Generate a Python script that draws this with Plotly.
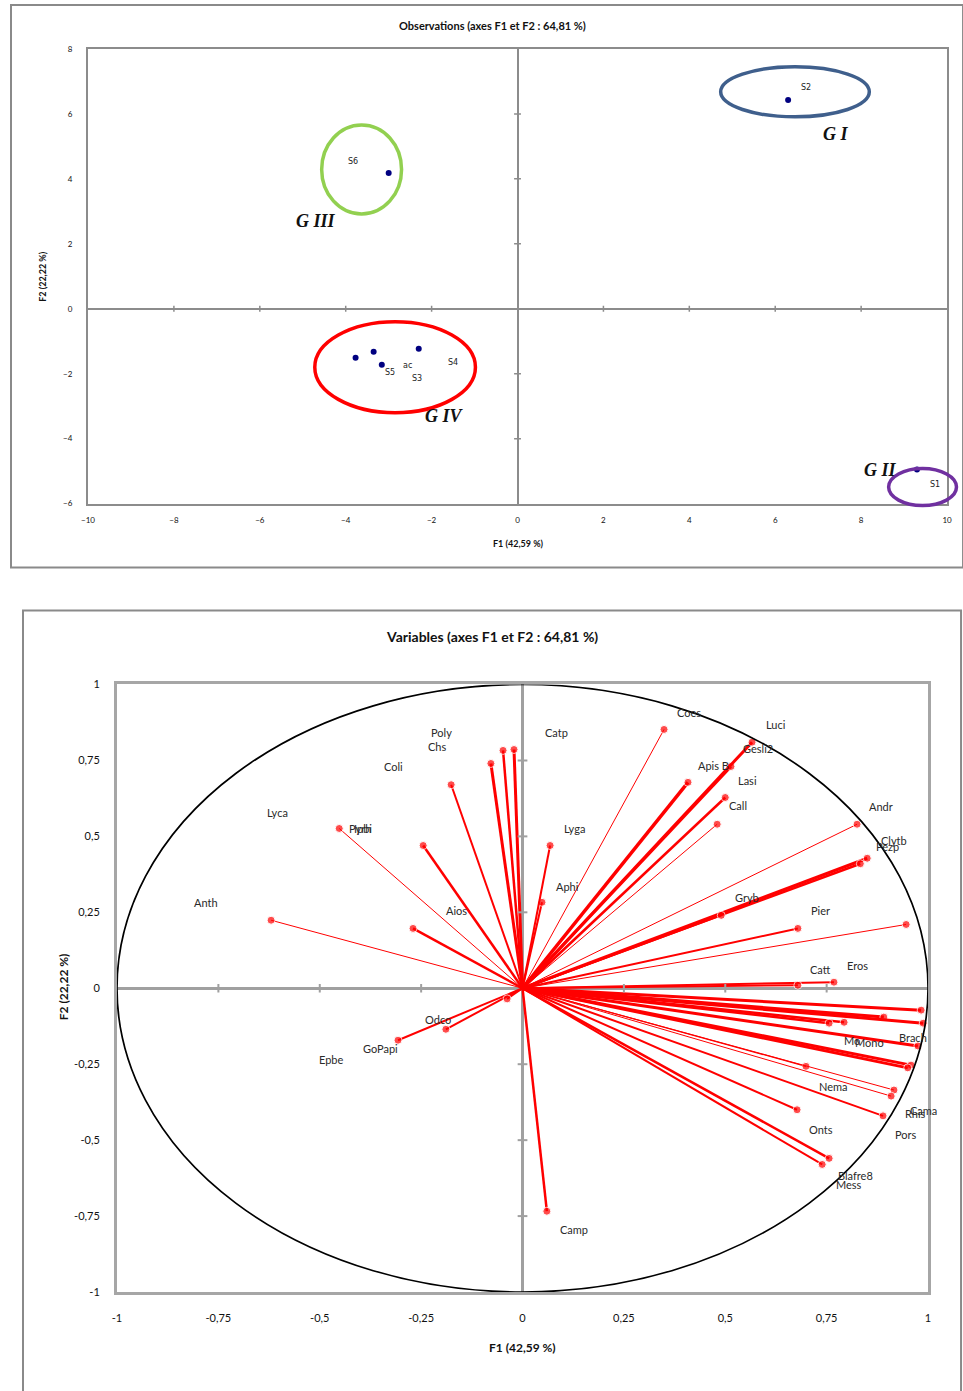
import plotly.graph_objects as go

W, H = 963, 1391

# ---------------- Observations (top chart) ----------------
obs_f1 = [6.30, -3.00, -3.77, -3.35, -3.16, -2.30, 9.30]
obs_f2 = [6.43, 4.18, -1.51, -1.32, -1.72, -1.23, -4.95]
obs_labels = ["S2", "S6", "S5", "ac", "S3", "S4", "S1"]
obs_label_f1 = [6.72, -3.84, -2.98, -2.56, -2.35, -1.51, 9.72]
obs_label_f2 = [6.80, 4.55, -1.97, -1.75, -2.15, -1.66, -5.42]

groups = ["G I", "G II", "G III", "G IV"]
group_cx = [6.46, 9.43, -3.63, -2.85]
group_cy = [6.68, -5.49, 4.29, -1.80]
group_rx = [1.73, 0.79, 0.93, 1.87]
group_ry = [0.77, 0.57, 1.37, 1.40]
group_colors = ["#3f5f8c", "#7030a0", "#92d050", "#ff0000"]
group_label_f1 = [7.40, 8.45, -4.70, -1.70]
group_label_f2 = [5.38, -4.95, 2.71, -3.29]

obs_xticks = [-10, -8, -6, -4, -2, 0, 2, 4, 6, 8, 10]
obs_yticks = [-6, -4, -2, 0, 2, 4, 6, 8]

# ---------------- Variables (bottom chart) ----------------
var_f1 = [-0.620, -0.452, -0.245, -0.176, -0.078, -0.048, -0.021, -0.270,
          0.048, 0.068, 0.349, 0.408, 0.514, 0.566, 0.500, 0.480,
          0.825, 0.850, 0.833, 0.490, 0.679, 0.946, 0.768, 0.679,
          0.983, 0.891, 0.793, 0.756, 0.988, 0.975, 0.958, 0.950,
          0.699, 0.916, 0.909, 0.889, 0.677, 0.756, 0.739, 0.060,
          -0.307, -0.189, -0.038]
var_f2 = [0.224, 0.526, 0.470, 0.670, 0.740, 0.783, 0.786, 0.197,
          0.283, 0.470, 0.852, 0.678, 0.730, 0.810, 0.628, 0.540,
          0.540, 0.428, 0.410, 0.240, 0.197, 0.210, 0.020, 0.010,
          -0.072, -0.095, -0.112, -0.115, -0.115, -0.190, -0.253, -0.262,
          -0.257, -0.335, -0.355, -0.420, -0.400, -0.560, -0.580, -0.734,
          -0.171, -0.135, -0.035]
var_width = [1, 1, 2.5, 2, 3, 2.5, 3, 2.5,
             2, 2, 1, 3.5, 3, 3, 2.5, 1,
             1, 3, 2.5, 2, 2, 1, 2, 2,
             3, 3, 2.5, 2.5, 3, 3, 3, 3,
             1.2, 1, 1, 2, 2, 2.5, 2, 2.5,
             2, 2, 2]

var_labels = ["Poly", "Chs", "Coli", "Catp", "Coes", "Luci", "Gesli2", "Apis B", "Lasi", "Call",
              "Andr", "Clytb", "Pezp", "Lyca", "Pyrh", "Ipbi", "Lyga", "Aphi", "Gryb", "Pier",
              "EctE", "Anth", "Aios", "Catt", "Eros", "Odco", "GoPapi", "Epbe", "blag", "Brach",
              "Pera", "Cara", "Mo", "Mono", "Plnep", "Rige", "Tera", "Nema", "Cama", "Rhis",
              "Pors", "Onts", "Blafre8", "Mess", "Camp"]
var_label_f1 = [-0.199, -0.211, -0.317, 0.085, 0.411, 0.625, 0.581, 0.472, 0.554, 0.531,
                0.884, 0.916, 0.899, -0.603, -0.400, -0.393, 0.127, 0.112, 0.554, 0.736,
                1.002, -0.781, -0.162, 0.736, 0.825, -0.208, -0.351, -0.472, 1.042, 0.963,
                1.037, 1.037, 0.812, 0.855, 1.034, 1.022, 1.012, 0.766, 0.988, 0.970,
                0.946, 0.736, 0.822, 0.805, 0.127]
var_label_f2 = [0.842, 0.796, 0.730, 0.842, 0.908, 0.868, 0.789, 0.734, 0.684, 0.602,
                0.599, 0.487, 0.467, 0.579, 0.526, 0.526, 0.526, 0.336, 0.299, 0.257,
                0.266, 0.283, 0.257, 0.0625, 0.0757, -0.102, -0.197, -0.234, -0.132, -0.161,
                -0.178, -0.184, -0.171, -0.178, -0.250, -0.316, -0.326, -0.322, -0.401, -0.411,
                -0.480, -0.464, -0.618, -0.645, -0.793]

var_ticks = [-1, -0.75, -0.5, -0.25, 0, 0.25, 0.5, 0.75, 1]
var_ticktext = ["-1", "-0,75", "-0,5", "-0,25", "0", "0,25", "0,5", "0,75", "1"]

FONT = "Lato"

# the photographed page is inset by ~6 px and slightly shrunk; compensate
SX, SY, OFF = 0.9875, 0.9914, 6.0


def px_x(p):
    return ((p - OFF) / SX) / W


def px_y(p):
    return 1 - ((p - OFF) / SY) / H


TOP_XDOM = [px_x(87), px_x(946)]
TOP_YDOM = [px_y(503), px_y(48)]
TOP_XR = [-10, 10]
TOP_YR = [-6, 8]


def top_to_paper_x(v):
    return TOP_XDOM[0] + (v - TOP_XR[0]) / (TOP_XR[1] - TOP_XR[0]) * (TOP_XDOM[1] - TOP_XDOM[0])


def top_to_paper_y(v):
    return TOP_YDOM[0] + (v - TOP_YR[0]) / (TOP_YR[1] - TOP_YR[0]) * (TOP_YDOM[1] - TOP_YDOM[0])


fig = go.Figure()

# --- top: observations ---
fig.add_trace(go.Scatter(
    x=obs_f1, y=obs_f2, mode="markers",
    marker=dict(color="#000080", size=6),
    xaxis="x", yaxis="y", showlegend=False, hoverinfo="skip", cliponaxis=False))

shapes = []
annotations = []

# zero-line tick marks (top)
for t in obs_xticks:
    if t not in (-10, 10, 0):
        shapes.append(dict(type="line", xref="x", yref="y", x0=t, x1=t, y0=-0.09, y1=0.09,
                           line=dict(color="#8c8c8c", width=1.5)))
for t in obs_yticks:
    if t not in (-6, 8, 0):
        shapes.append(dict(type="line", xref="x", yref="y", x0=-0.08, x1=0.08, y0=t, y1=t,
                           line=dict(color="#8c8c8c", width=1.5)))

# group ellipses (paper-referenced so they are not clipped at the plot edge)
for cx, cy, rx, ry, c in zip(group_cx, group_cy, group_rx, group_ry, group_colors):
    shapes.append(dict(type="circle", xref="paper", yref="paper",
                       x0=top_to_paper_x(cx - rx), x1=top_to_paper_x(cx + rx),
                       y0=top_to_paper_y(cy - ry), y1=top_to_paper_y(cy + ry),
                       line=dict(color=c, width=3.5)))

for t, x, y in zip(obs_labels, obs_label_f1, obs_label_f2):
    annotations.append(dict(x=x, y=y, xref="x", yref="y", text=t, showarrow=False,
                            font=dict(family="DejaVu Sans", size=8, color="#222")))
for t, x, y in zip(groups, group_label_f1, group_label_f2):
    annotations.append(dict(x=x, y=y, xref="x", yref="y", text="<b><i>%s</i></b>" % t,
                            showarrow=False,
                            font=dict(family="Liberation Serif", size=18, color="#111")))

# --- bottom: variables ---
for f1, f2, w in zip(var_f1, var_f2, var_width):
    fig.add_trace(go.Scatter(
        x=[0, f1], y=[0, f2], mode="lines+markers",
        line=dict(color="#ff0000", width=w),
        marker=dict(color="#ff0000", size=[0, 8]),
        xaxis="x2", yaxis="y2", showlegend=False, hoverinfo="skip"))

shapes.append(dict(type="circle", xref="x2", yref="y2", x0=-1, x1=1, y0=-1, y1=1,
                   line=dict(color="#000", width=1.7), layer="above"))
for t in var_ticks:
    if t not in (-1, 1, 0):
        shapes.append(dict(type="line", xref="x2", yref="y2", x0=t, x1=t, y0=-0.014, y1=0.014,
                           line=dict(color="#a0a0a0", width=2)))
        shapes.append(dict(type="line", xref="x2", yref="y2", x0=-0.012, x1=0.012, y0=t, y1=t,
                           line=dict(color="#a0a0a0", width=2)))

for t, x, y in zip(var_labels, var_label_f1, var_label_f2):
    annotations.append(dict(x=x, y=y, xref="x2", yref="y2", text=t, showarrow=False,
                            font=dict(family=FONT, size=11, color="#2a2a2a")))

# panel frames
shapes.append(dict(type="rect", xref="paper", yref="paper",
                   x0=px_x(10), x1=px_x(962), y0=px_y(567), y1=px_y(4),
                   line=dict(color="#8a8a8a", width=2)))
shapes.append(dict(type="rect", xref="paper", yref="paper",
                   x0=px_x(22), x1=px_x(960), y0=px_y(1400), y1=px_y(610),
                   line=dict(color="#8a8a8a", width=2)))


def paper_text(x, y, text, size, angle=0):
    return dict(x=px_x(x), y=px_y(y), xref="paper", yref="paper", showarrow=False,
                xanchor="center", yanchor="middle", textangle=angle,
                text="<b>%s</b>" % text, font=dict(family=FONT, size=size, color="#111"))


annotations += [
    paper_text(491, 25, "Observations (axes F1 et F2 : 64,81 %)", 11),
    paper_text(517, 543, "F1 (42,59 %)", 9),
    paper_text(42, 276, "F2 (22,22 %)", 9, -90),
    paper_text(491, 636, "Variables (axes F1 et F2 : 64,81 %)", 14),
    paper_text(521, 1348, "F1 (42,59 %)", 12),
    paper_text(62, 987, "F2 (22,22 %)", 12, -90),
]

fig.update_layout(
    width=W, height=H, margin=dict(l=0, r=0, t=0, b=0),
    paper_bgcolor="white", plot_bgcolor="white",
    shapes=shapes, annotations=annotations,
    xaxis=dict(domain=TOP_XDOM, range=TOP_XR, anchor="y",
               tickvals=obs_xticks, showgrid=False, zeroline=True,
               zerolinecolor="#8c8c8c", zerolinewidth=2,
               showline=True, mirror=True, linecolor="#8c8c8c", linewidth=2,
               ticks="", ticklabelstandoff=8,
               tickfont=dict(family=FONT, size=8, color="#111"), fixedrange=True),
    yaxis=dict(domain=TOP_YDOM, range=TOP_YR, anchor="x",
               tickvals=obs_yticks, showgrid=False, zeroline=True,
               zerolinecolor="#8c8c8c", zerolinewidth=2,
               showline=True, mirror=True, linecolor="#8c8c8c", linewidth=2,
               ticks="", ticklabelstandoff=12,
               tickfont=dict(family=FONT, size=8, color="#111"), fixedrange=True),
    xaxis2=dict(domain=[px_x(116), px_x(927)], range=[-1, 1], anchor="y2",
                tickvals=var_ticks, ticktext=var_ticktext, showgrid=False, zeroline=True,
                zerolinecolor="#a0a0a0", zerolinewidth=3,
                showline=True, mirror=True, linecolor="#a6a6a6", linewidth=3,
                ticks="", ticklabelstandoff=14,
                tickfont=dict(family=FONT, size=11, color="#111"), fixedrange=True),
    yaxis2=dict(domain=[px_y(1292), px_y(684)], range=[-1, 1], anchor="x2",
                tickvals=var_ticks, ticktext=var_ticktext, showgrid=False, zeroline=True,
                zerolinecolor="#a0a0a0", zerolinewidth=3,
                showline=True, mirror=True, linecolor="#a6a6a6", linewidth=3,
                ticks="", ticklabelstandoff=12,
                tickfont=dict(family=FONT, size=11, color="#111"), fixedrange=True),
)

fig.write_html("out.html", config={"displayModeBar": False},
               post_script="document.body.style.margin='0';document.body.style.overflow='hidden';")
